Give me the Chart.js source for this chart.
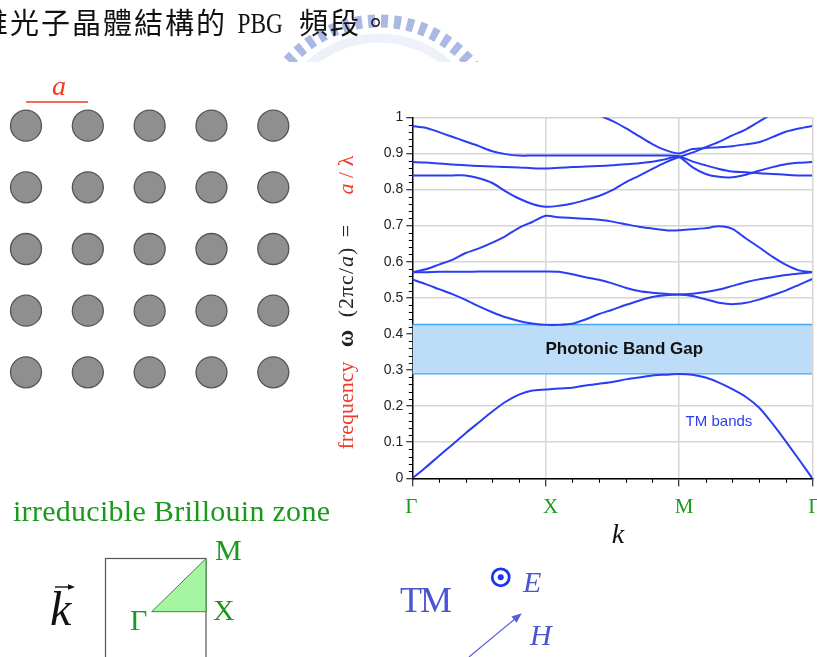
<!DOCTYPE html>
<html>
<head>
<meta charset="utf-8">
<script src="https://cdn.jsdelivr.net/npm/chart.js@4.4.0/dist/chart.umd.min.js"></script>
<style>
  html, body { margin: 0; padding: 0; background: #fff; }
  #page { position: relative; width: 817px; height: 657px; overflow: hidden; }
  canvas { position: absolute; }
  #overlay { position: absolute; left: 0; top: 0; pointer-events: none; }
</style>
</head>
<body>
<div id="page">
  <canvas id="lattice" width="300" height="300" style="left:0;top:90px"></canvas>
  <canvas id="bands" width="477" height="450" style="left:340px;top:100px"></canvas>

  <svg id="overlay" width="817" height="657" font-family="'Liberation Serif', serif">
    <defs><clipPath id="wm"><rect x="0" y="0" width="817" height="62"/></clipPath></defs>
    <!-- faint watermark behind the heading -->
    <g clip-path="url(#wm)">
      <circle cx="379" cy="142" r="121" fill="none" stroke="#aab8e4" stroke-width="13" stroke-dasharray="7 6"/>
      <circle cx="379" cy="142" r="104" fill="none" stroke="#eef1f9" stroke-width="9"/>
    </g>
    <text x="-21" y="34" font-family="'Noto Sans CJK TC'" font-size="29" letter-spacing="2" fill="#111">維光子晶體結構的</text>
    <text x="237.5" y="33" font-size="30" fill="#111" textLength="45.5" lengthAdjust="spacingAndGlyphs">PBG</text>
    <text x="299" y="34" font-family="'Noto Sans CJK TC'" font-size="29" letter-spacing="2" fill="#111">頻段。</text>

    <!-- lattice constant -->
    <line x1="26" y1="102" x2="88" y2="102" stroke="#f23a2a" stroke-width="1.5"/>
    <text x="59" y="95" font-size="28" font-style="italic" fill="#f23a2a" text-anchor="middle">a</text>

    <!-- y axis title -->
    <g font-size="22" fill="#222">
      <text transform="translate(353,405.5) rotate(-90)" text-anchor="middle" fill="#f23a2a">frequency</text>
      <text transform="translate(353,338.5) rotate(-90)" text-anchor="middle" font-weight="bold" font-size="24">ω</text>
      <text transform="translate(353,282) rotate(-90)" text-anchor="middle" letter-spacing="1">(2πc/<tspan font-style="italic">a</tspan>)</text>
      <text transform="translate(353,231) rotate(-90)" text-anchor="middle">=</text>
      <text transform="translate(353,175) rotate(-90)" text-anchor="middle" fill="#f23a2a"><tspan font-style="italic">a</tspan>  /  λ</text>
    </g>
    <text x="618" y="543" font-size="28" font-style="italic" fill="#111" text-anchor="middle">k</text>

    <!-- irreducible Brillouin zone -->
    <text x="13" y="521" font-size="30" fill="#1a9a1a" textLength="317">irreducible Brillouin zone</text>
    <rect x="105.5" y="558.5" width="100.5" height="130" fill="none" stroke="#555" stroke-width="1.2"/>
    <polygon points="151.7,611.7 206,611.7 206,558.5" fill="#a6f5a0" stroke="#3b8a3b" stroke-width="1"/>
    <g font-size="30" fill="#1a9a1a">
      <text x="215" y="560">M</text>
      <text x="213" y="620">X</text>
      <text x="130" y="630">Γ</text>
    </g>
    <text x="50" y="625" font-size="48" font-style="italic" fill="#111">k</text>
    <line x1="55" y1="587" x2="70" y2="587" stroke="#111" stroke-width="1.4"/>
    <polygon points="75,587 68,584.2 68,589.8" fill="#111"/>

    <!-- TM polarisation -->
    <text x="400" y="612" font-size="36" fill="#4a55d0" textLength="52">TM</text>
    <circle cx="500.7" cy="577.3" r="8.5" fill="none" stroke="#1a35f0" stroke-width="2.8"/>
    <circle cx="500.7" cy="577.3" r="3" fill="#1a35f0"/>
    <text x="523" y="592" font-size="30" font-style="italic" fill="#4a55d0">E</text>
    <line x1="469" y1="657" x2="514" y2="619.7" stroke="#5560d8" stroke-width="1.2"/>
    <polygon points="521.7,613.3 516.6,622.8 511.4,616.6" fill="#5560d8"/>
    <text x="530" y="645" font-size="30" font-style="italic" fill="#4a55d0">H</text>
  </svg>
</div>

<script>
// lattice of rods (5 x 5)
const latticeCols = [0, 1, 2, 3, 4];
const latticeRows = [0, 1, 2, 3, 4];

// band diagram, k along Γ(0) - X(1) - M(2) - Γ(3)
const kGrid = [0, 0.1, 0.2, 0.3, 0.4, 0.5, 0.6, 0.7, 0.8, 0.9, 1.0,
               1.1, 1.2, 1.3, 1.4, 1.5, 1.6, 1.7, 1.8, 1.9, 2.0,
               2.1, 2.2, 2.3, 2.4, 2.5, 2.6, 2.7, 2.8, 2.9, 3.0];
const kTickLabels = ['Γ', 'X', 'M', 'Γ'];

const band1 = [0, 0.03, 0.062, 0.093, 0.125, 0.155, 0.185, 0.212, 0.232, 0.243, 0.246,
               0.249, 0.251, 0.257, 0.262, 0.267, 0.274, 0.279, 0.285, 0.287, 0.289,
               0.287, 0.279, 0.265, 0.247, 0.226, 0.196, 0.152, 0.103, 0.052, 0];
const band2 = [0.551, 0.538, 0.524, 0.51, 0.494, 0.476, 0.46, 0.446, 0.436, 0.429, 0.425,
               0.425, 0.428, 0.44, 0.455, 0.467, 0.48, 0.492, 0.502, 0.507, 0.509,
               0.505, 0.496, 0.486, 0.482, 0.486, 0.495, 0.507, 0.52, 0.536, 0.552];
const band3 = [0.571, 0.571, 0.572, 0.572, 0.572, 0.573, 0.573, 0.573, 0.573, 0.573, 0.573,
               0.572, 0.565, 0.557, 0.55, 0.54, 0.528, 0.519, 0.514, 0.511, 0.509,
               0.511, 0.516, 0.523, 0.533, 0.543, 0.551, 0.557, 0.563, 0.567, 0.571];
const band4 = [0.571, 0.579, 0.592, 0.605, 0.624, 0.637, 0.653, 0.671, 0.694, 0.71, 0.727,
               0.723, 0.721, 0.719, 0.716, 0.711, 0.704, 0.697, 0.692, 0.687, 0.687,
               0.69, 0.693, 0.698, 0.691, 0.665, 0.64, 0.614, 0.592, 0.576, 0.571];
const band5 = [0.839, 0.839, 0.839, 0.839, 0.839, 0.831, 0.818, 0.795, 0.775, 0.76, 0.752,
               0.755, 0.761, 0.771, 0.782, 0.798, 0.82, 0.838, 0.857, 0.875, 0.89,
               0.902, 0.917, 0.932, 0.95, 0.966, 0.988, 1.01, null, null, null];
const band6 = [0.876, 0.875, 0.872, 0.869, 0.867, 0.865, 0.864, 0.862, 0.861, 0.859, 0.858,
               0.86, 0.862, 0.864, 0.865, 0.867, 0.87, 0.873, 0.877, 0.884, 0.89,
               0.862, 0.843, 0.835, 0.834, 0.841, 0.852, 0.862, 0.87, 0.874, 0.876];
const band7 = [0.976, 0.971, 0.959, 0.946, 0.933, 0.92, 0.906, 0.898, 0.894, 0.894, 0.894,
               0.894, 0.894, 0.894, 0.894, 0.894, 0.894, 0.894, 0.894, 0.894, 0.892,
               0.878, 0.867, 0.857, 0.85, 0.848, 0.845, 0.843, 0.841, 0.839, 0.839];
const band8 = [null, null, null, null, null, null, null, null, null, null, null,
               null, null, null, 1.006, 0.99, 0.97, 0.948, 0.926, 0.909, 0.9,
               0.912, 0.915, 0.917, 0.92, 0.925, 0.931, 0.945, 0.96, 0.969, 0.976];
const bandSeries = [band1, band2, band3, band4, band5, band6, band7, band8];

const gapBottom = 0.289;
const gapTop = 0.426;

const BLUE = '#2b3df2';

new Chart(document.getElementById('lattice'), {
  type: 'scatter',
  data: {
    datasets: [{
      data: latticeRows.flatMap(r => latticeCols.map(c => ({ x: c, y: r }))),
      pointRadius: 15.5,
      backgroundColor: '#8f8f8f',
      borderColor: '#555',
      borderWidth: 1.3,
      clip: false
    }]
  },
  options: {
    responsive: false,
    animation: false,
    events: [],
    layout: { padding: { left: 26, right: 26.7, top: 35.7, bottom: 17.7 } },
    plugins: { legend: { display: false }, tooltip: { enabled: false } },
    scales: {
      x: { display: false, min: 0, max: 4 },
      y: { display: false, min: 0, max: 4 }
    }
  }
});

const xNudge = [-1, 5, 5, 2];

const bandDecor = {
  id: 'bandDecor',
  afterDraw(chart) {
    const { ctx, scales: { x, y } } = chart;
    ctx.save();
    ctx.strokeStyle = '#000';
    ctx.lineWidth = 1;
    // minor ticks
    for (let i = 1; i < 50; i++) {
      if (i % 5 === 0) continue;
      const py = Math.round(y.getPixelForValue(i * 0.02)) + 0.5;
      ctx.beginPath(); ctx.moveTo(x.left - 3.5, py); ctx.lineTo(x.left, py); ctx.stroke();
    }
    for (let i = 1; i < 15; i++) {
      if (i % 5 === 0) continue;
      const px = Math.round(x.getPixelForValue(i * 0.2)) + 0.5;
      ctx.beginPath(); ctx.moveTo(px, y.bottom); ctx.lineTo(px, y.bottom + 4.5); ctx.stroke();
    }
    // k point labels
    ctx.fillStyle = '#1a9a1a';
    ctx.font = '21px "Liberation Serif"';
    ctx.textAlign = 'center';
    ctx.textBaseline = 'alphabetic';
    kTickLabels.forEach((t, i) => ctx.fillText(t, x.getPixelForValue(i) + xNudge[i], y.bottom + 35));
    // annotations
    ctx.textBaseline = 'middle';
    ctx.fillStyle = '#111';
    ctx.font = 'bold 17px "Liberation Sans"';
    ctx.fillText('Photonic Band Gap', x.getPixelForValue(1.59), y.getPixelForValue(0.357));
    ctx.fillStyle = BLUE;
    ctx.font = '15px "Liberation Sans"';
    ctx.fillText('TM bands', x.getPixelForValue(2.3), y.getPixelForValue(0.156));
    ctx.restore();
  }
};

const gapSets = [
  { data: [{ x: 0, y: gapBottom }, { x: 3, y: gapBottom }], borderColor: '#48a9f0', borderWidth: 1.3,
    pointRadius: 0, fill: false, order: 5 },
  { data: [{ x: 0, y: gapTop }, { x: 3, y: gapTop }], borderColor: '#48a9f0', borderWidth: 1.3,
    pointRadius: 0, fill: '-1', backgroundColor: '#bddcf8', order: 5 }
];

const bandSets = bandSeries.map(b => ({
  data: kGrid.map((k, i) => ({ x: k, y: b[i] })),
  borderColor: BLUE,
  borderWidth: 2,
  pointRadius: 0,
  tension: 0.25,
  fill: false,
  order: 0
}));

new Chart(document.getElementById('bands'), {
  type: 'line',
  data: { datasets: gapSets.concat(bandSets) },
  options: {
    responsive: false,
    animation: false,
    events: [],
    layout: { padding: { top: 17.3, right: 4.7, left: 0, bottom: 0 } },
    plugins: { legend: { display: false }, tooltip: { enabled: false } },
    scales: {
      x: {
        type: 'linear', min: 0, max: 3,
        ticks: { stepSize: 1, display: false },
        grid: {
          color: c => (c.tick && c.tick.value === 0) ? 'rgba(0,0,0,0)' : '#d6d6d6',
          lineWidth: 1.5, tickLength: 8, tickColor: '#000', tickWidth: 1
        },
        border: { color: '#000', width: 1.5 },
        afterFit: s => { s.height = 71.7; }
      },
      y: {
        min: 0, max: 1,
        ticks: {
          stepSize: 0.1, padding: 3, color: '#222',
          font: { family: 'Liberation Sans', size: 14 },
          callback: v => (Math.abs(v) < 1e-9 ? '0' : Math.abs(v - 1) < 1e-9 ? '1' : v.toFixed(1))
        },
        grid: { color: '#d6d6d6', lineWidth: 1.5, tickLength: 6, tickColor: '#000', tickWidth: 1 },
        border: { color: '#000', width: 1.5 },
        afterFit: s => { s.width = 72.3; }
      }
    }
  },
  plugins: [bandDecor]
});
</script>
</body>
</html>
